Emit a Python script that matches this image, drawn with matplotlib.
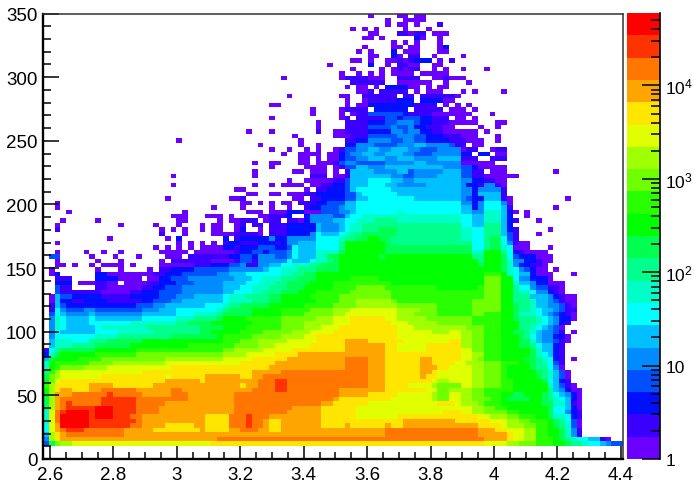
"""2D occupancy histogram on a log colour scale, 100 x 100 bins with a palette bar."""
import numpy as np
import matplotlib
matplotlib.use("Agg")
import matplotlib.pyplot as plt
from matplotlib.colors import ListedColormap, BoundaryNorm

plt.rcParams["font.family"] = ["Liberation Sans", "DejaVu Sans"]
plt.rcParams["mathtext.fontset"] = "custom"
plt.rcParams["mathtext.rm"] = "Liberation Sans"
plt.rcParams["mathtext.default"] = "rm"

N_BINS = 100
X_RANGE = (2.578, 4.407)
Y_RANGE = (0, 350)
BAR_TOP = 59600

X_TICKS = [2.6, 2.8, 3.0, 3.2, 3.4, 3.6, 3.8, 4.0, 4.2, 4.4]
X_LABELS = ["2.6", "2.8", "3", "3.2", "3.4", "3.6", "3.8", "4", "4.2", "4.4"]
Y_TICKS = [0, 50, 100, 150, 200, 250, 300, 350]
BAR_TICKS = [1, 10, 100, 1000, 10000]
BAR_LABELS = ["1", "10", "$10^{2}$", "$10^{3}$", "$10^{4}$"]

PALETTE = [
    "#6a00ff", "#3a00ff", "#0010ff", "#0050ff", "#008cff",
    "#00bfff", "#00ffff", "#00ffc8", "#00ff8c", "#00ff50",
    "#00ff00", "#28ff00", "#70ff00", "#a0ff00", "#e0ff00",
    "#ffe600", "#ffa500", "#ff7700", "#ff3300", "#ff0000",
]
LEVEL_CHARS = "0123456789abcdefghij"

# one string per y bin, top bin first; each token is <colour level><last x bin>, "." = empty
ROWS = [
    ".55 056 .60 062 .63 065",
    ".58 059 .61 065",
    ".58 059 .60 061 062 .63 064 .67 168",
    ".52 053 .54 055 .56 057 .61 062 .65 066",
    ".55 057 .60 162 063 165 .66 069",
    ".54 056 .57 058 .63 264 065 .67 068",
    ".59 060 .61 062 .63 064 .67 068",
    ".54 055 .59 061 .62 064 .67 068 269",
    ".53 054 .55 056 .59 260 .61 064 .67 069",
    ".55 057 .59 260 061 .62 164 .66 067 .71 072",
    ".52 054 .55 056 .58 060 161 062 163 264 266 .67 068 .69 170",
    ".48 049 .55 256 .58 059 .60 162 064 .66 068",
    ".52 053 .57 058 .59 060 161 062 164 .66 067 .68 069 .71 072 .75 076",
    ".50 051 .53 054 .55 056 .57 058 .59 063 .64 069",
    ".40 041 .50 051 155 058 .60 164 .66 068 169 072",
    ".52 158 .60 062 066 .68 069 .72 073",
    ".51 052 .53 055 .56 057 .58 262 064 .65 066 .67 069",
    ".53 055 156 .57 162 .63 064 .65 068 .71 072 .73 074 .78 079",
    ".41 042 .50 052 .54 160 .61 163 .64 170 071",
    ".51 052 .54 055 160 263 .64 268 070",
    ".38 040 .51 052 .53 055 263 167 .68 069 .70 071 .72 073",
    ".45 046 .50 051 155 .56 262 .63 168 .69 072 .73 074",
    ".45 046 .50 051 .52 053 155 361 262 166 073 .76 077",
    ".38 039 .50 051 152 .53 158 360 261 364 266 169 .70 072 .73 074",
    ".46 047 .51 155 258 360 463 364 266 169 074 .77 079",
    ".46 047 .51 155 359 460 362 463 265 168 070 .74 075 .77 078",
    ".34 035 .38 039 .46 147 .49 051 155 259 461 362 464 266 168 071 074 .75 076",
    ".42 043 .49 052 155 360 463 365 268 171 074 .77 078",
    ".22 023 .43 044 .51 153 255 459 361 463 365 269 172 075 .77 078",
    ".36 037 .43 044 .46 047 .51 253 456 360 463 565 469 370 172 .73 075",
    ".38 039 .41 042 .44 045 .46 047 .49 050 151 353 455 557 459 562 464 367 471 072 174 .76 077 179",
    ".40 041 .43 047 .48 050 251 352 454 556 458 561 463 366 471 273 .74 276 .77 079",
    ".43 045 .46 047 .48 050 251 353 455 558 460 563 465 467 571 174 .76 179",
    ".35 036 .38 040 .43 045 .46 047 049 150 351 453 358 463 565 471 073 077",
    ".38 039 .44 048 .49 050 151 353 555 458 564 568 471 373 274 079",
    ".35 036 .42 044 .45 048 .49 050 .51 152 556 460 562 363 468 571 373 175 .76 079 .87 088",
    ".21 022 .35 036 .45 148 .49 051 152 555 559 461 363 467 571 373 175 081",
    ".41 042 .44 049 151 352 555 659 561 463 565 571 473 275 177 079",
    ".21 022 .35 036 .38 039 .40 044 .45 047 149 251 352 555 658 560 465 571 472 274 175 477 178 079",
    ".32 034 .44 045 .46 148 251 352 553 659 565 571 473 274 478 179",
    ".34 036 .38 040 .41 044 146 251 353 554 660 566 571 473 274 578 179",
    ".20 021 .31 033 134 .42 044 .45 147 251 353 555 663 565 571 472 373 275 578 179 080 .89 090",
    ".1 02 .33 035 .36 037 .38 039 .40 042 .43 146 248 351 553 671 473 274 475 678 479 080",
    ".1 02 .28 029 .33 034 .38 039 .41 042 .44 145 247 350 451 553 671 573 274 475 678 579 180 .87 088",
    ".3 04 .23 024 .34 037 .38 041 244 047 350 452 553 654 660 761 671 573 475 778 579 280 081 .82 083",
    ".21 024 .27 030 .31 032 .36 038 141 242 .44 245 447 449 351 552 654 771 673 575 778 579 280 .82 083",
    ".2 03 .8 09 .22 024 .29 030 .31 033 136 .37 038 140 .41 143 044 245 447 449 551 653 756 860 771 673 575 778 579 280 181 .84 085",
    ".1 02 .12 013 .18 019 .22 023 .26 027 .28 030 .32 033 134 .35 137 .38 141 246 547 450 551 652 754 860 871 673 575 878 579 280",
    ".1 12 .19 020 .21 022 .23 024 .26 027 .28 030 .32 033 234 .36 037 .38 141 245 246 547 450 551 652 754 857 960 871 773 675 878 579 280 181 .86 087",
    ".19 120 .23 024 .28 032 136 037 .38 141 245 446 647 550 651 752 854 960 871 773 675 878 579 380 181 .84 085",
    ".10 011 .20 021 .22 223 .30 231 .32 133 238 439 241 445 446 650 751 853 955 a57 959 871 773 675 876 978 679 380 181",
    ".1 02 .22 023 .24 025 .26 027 .28 029 .30 131 233 136 239 140 241 443 546 647 650 851 a58 959 873 675 876 978 679 480 181 083",
    ".18 019 .20 021 .22 023 .24 025 .26 030 232 133 236 339 241 342 643 546 650 851 a58 973 675 876 978 779 680 081 083 .86 087",
    ".1 02 .6 07 .9 010 .12 013 .19 023 .23 024 .25 032 133 235 337 238 341 442 643 546 750 951 a58 973 775 a78 879 680 281 182 086",
    ".0 32 .7 08 .11 012 .15 016 .20 023 .24 131 233 335 236 439 341 442 643 546 748 950 a57 958 a73 875 a78 979 680 381 284 087",
    ".1 02 .8 09 .12 013 .19 020 .21 128 032 133 335 136 441 642 545 646 748 849 950 a74 875 a78 979 780 482 284 185 087",
    ".1 03 .4 05 .7 08 .9 013 .14 015 .19 025 128 231 333 434 136 438 540 642 745 847 950 a74 975 a78 979 780 481 283 185 086",
    ".0 01 .8 09 .12 013 .17 018 .19 121 225 329 331 434 437 538 640 743 846 950 a75 a78 979 780 681 482 383 284 086 .87 088",
    ".0 01 22 .8 210 015 .15 018 120 223 329 431 534 636 640 742 844 946 a75 b78 a79 780 681 583 284 087 .90 091",
    ".1 14 .8 212 016 .17 019 221 324 428 432 535 637 740 843 946 a52 b57 a75 c78 a80 681 483 286 087",
    ".1 24 .5 08 110 012 .13 015 .15 017 119 222 325 430 534 636 739 841 945 a49 b59 a75 c78 a80 781 583 484 286 089",
    ".1 32 14 .8 110 016 118 220 323 426 430 533 635 738 841 944 a49 b53 c58 b67 a74 b75 c78 a80 881 683 484 386 188 089",
    ".1 32 19 014 116 219 323 425 430 532 635 737 840 943 a46 b52 c59 b75 c78 a80 881 783 684 486 287 188 089",
    ".0 01 52 34 29 114 219 322 425 530 631 734 838 940 a45 b50 c59 b75 c78 a80 881 883 584 586 487 288 189 091",
    ".0 01 52 24 16 210 116 218 321 423 530 631 735 838 940 a46 b50 c53 d59 c60 b73 c78 a80 881 883 784 586 487 388 189 091",
    ".0 11 52 33 215 318 420 527 630 731 833 938 a44 b49 c53 d60 c67 b73 c78 a80 981 883 784 586 487 488 389 190 091",
    ".0 11 62 43 36 48 316 419 522 629 730 831 935 a40 b45 c49 d52 e60 d64 c67 b73 c78 a80 981 883 784 685 587 488 389 191",
    ".0 31 62 53 47 58 416 522 625 729 830 935 a40 b44 c49 d51 e60 d63 c67 b73 c75 b78 a80 981 783 784 685 586 487 388 289 190 091",
    ".0 41 72 63 57 68 516 622 725 829 930 a34 b40 c46 d49 e52 f58 e60 d65 c73 b78 a80 981 884 785 686 587 488 290 091",
    ".0 41 72 63 57 68 614 722 824 928 a35 b40 c44 d49 e52 f59 e62 d67 c73 b78 a81 883 884 785 686 587 488 289 190",
    ".0 41 72 63 58 69 717 826 930 a34 b40 c44 d47 e50 f60 e63 d72 c75 b78 a81 883 784 685 586 487 388 089",
    ".0 41 62 58 612 718 826 928 a33 b37 c42 d45 e49 f60 e66 d69 e71 d73 c75 b78 a80 982 883 784 585 487 388 189 .90 091",
    ".0 41 68 712 821 929 a30 b35 c40 d44 e46 f60 e71 d73 c75 b78 a81 982 883 684 585 487 288 289 090",
    ".0 51 74 67 810 916 a30 b33 c36 d41 e46 f51 g55 f61 e69 f71 d73 c75 b78 a81 983 784 585 487 388 189 090",
    ".0 51 74 88 914 a24 b32 c36 d39 e45 f51 g58 f60 e65 f71 d73 c75 b78 a81 983 884 685 587 288 189",
    "10 61 82 98 a15 b30 c32 d37 e42 f51 g58 f60 e65 f71 e73 c75 b78 a83 984 785 587 288 189",
    "20 71 92 a8 b15 c30 d34 e39 f43 g58 f71 e73 d75 b78 a83 984 785 686 587 288 189",
    "50 91 a5 b9 c20 d30 e35 f41 g51 h55 g58 f64 g66 f71 e73 d74 c75 b78 a82 983 984 885 786 687 288 189 .90 091",
    "70 a1 b7 c11 d20 e33 f39 g51 h55 g58 f64 g66 f70 e72 d75 c78 b81 a83 984 885 786 687 388 189",
    "70 a1 b2 c6 d10 e21 f38 g51 h55 g58 f64 g67 f69 e73 d75 c78 b79 a83 984 886 687 488 089",
    "80 b1 d2 e16 f35 g40 h55 g58 f64 g66 f67 e73 d75 c78 b79 a84 985 886 787 588 389 090",
    "90 c1 d2 e9 f20 e21 f27 g33 f35 g37 h55 g58 f64 g65 f67 e73 d75 c78 b79 a84 985 886 787 588 389 090",
    "a0 c1 e2 f20 g26 f27 g36 h39 i41 h55 g58 f66 e67 d69 e73 d75 c78 b80 a85 986 687 588 289 190",
    "b0 d1 f7 g11 f18 g33 f34 g36 h39 i41 h55 g58 f62 e66 d67 c71 e73 d75 c78 b80 a86 787 588 389 190 091",
    "a0 d1 f2 g4 f7 g9 h15 g21 h23 g35 h39 i41 h50 g58 f65 e67 c69 d73 c75 b80 a86 887 588 489 290 092",
    "a0 d1 g4 h10 i11 h16 g21 h24 g32 h50 g55 f60 e66 d67 c69 e71 d73 c75 b78 a80 982 a85 986 887 688 589 490 291 092",
    "90 d1 g2 h9 i15 h24 g32 h49 g50 f59 e66 d67 c69 e71 d73 c76 b78 a79 983 a85 986 887 788 689 590 291 092",
    "90 d1 g2 h3 i4 h9 i15 h20 g32 h47 g49 f55 e67 f70 e71 d74 c75 b78 a85 986 987 789 590 191 092",
    "80 d1 g2 h3 i8 j11 i15 h19 g32 h42 g47 f53 e73 d75 c77 b79 a86 987 689 590 291 092",
    "70 e1 h2 i3 j7 i8 j11 i15 h19 g32 h41 g47 f53 e68 f71 e73 d75 c79 b81 a86 987 689 490 291 192",
    "70 e1 h2 j7 i8 j11 i14 h16 g27 f31 h34 i35 h38 g47 f53 e60 f74 e76 d79 c81 b84 a86 987 789 690 291 192",
    "70 e1 h2 j7 i15 h16 g27 f31 h34 i35 h37 g38 f40 g47 f61 g70 f76 e79 d81 c83 b86 a87 988 889 690 391 092",
    "60 e1 g2 j7 i14 h16 g20 f25 g27 f31 h34 i35 h37 g38 f40 g47 f51 g52 f58 g59 f61 g74 f78 e79 d82 c84 b86 a87 988 889 790 391 092",
    "60 e1 g2 h3 i6 h13 g18 f26 g27 f31 g33 h36 g38 f40 g58 h74 g77 f79 e82 d84 b86 a88 989 790 491 192",
    "50 d1 f2 g3 h13 g58 h74 g79 f80 e82 d84 b86 a88 989 790 491 192",
    "40 d1 f2 g29 h75 g79 f80 e82 d84 b87 a88 989 890 791 693 595 196 097",
    "30 91 c2 d4 e28 f75 e79 d81 c84 b87 a89 990 892 793 695 596 497 399",
]


def expand_row(row):
    cells = np.full(N_BINS, np.nan)
    start = 0
    for token in row.split():
        last = int(token[1:])
        if token[0] != ".":
            cells[start:last + 1] = LEVEL_CHARS.index(token[0])
        start = max(start, last + 1)
    return cells


grid = np.full((N_BINS, N_BINS), np.nan)
for i, row in enumerate(ROWS):
    grid[N_BINS - 1 - i] = expand_row(row)

fig = plt.figure(figsize=(6.94, 4.85), dpi=100)
ax = fig.add_axes([43 / 694, 25 / 485, 580 / 694, 445.5 / 485])
cax = fig.add_axes([627 / 694, 25 / 485, 32.7 / 694, 446 / 485])

cmap = ListedColormap(PALETTE)
norm = BoundaryNorm(np.arange(-0.5, 20.5), cmap.N)
xedges = np.linspace(*X_RANGE, N_BINS + 1)
yedges = np.linspace(*Y_RANGE, N_BINS + 1)
ax.pcolormesh(xedges, yedges, np.ma.masked_invalid(grid), cmap=cmap, norm=norm,
              antialiased=False, linewidth=0)

ax.set_xlim(*X_RANGE)
ax.set_ylim(*Y_RANGE)
ax.set_xticks(X_TICKS, X_LABELS)
ax.set_xticks(np.arange(2.6, 4.41, 0.05), minor=True)
ax.set_yticks(Y_TICKS)
ax.set_yticks(np.arange(0, 351, 10), minor=True)
ax.tick_params(axis="x", which="major", direction="in", length=9.5, width=1.1, pad=5, labelsize=13.5)
ax.tick_params(axis="x", which="minor", direction="in", length=4.8, width=1.1)
ax.tick_params(axis="y", which="major", direction="in", length=11.5, width=1.1, pad=4, labelsize=13.5)
ax.tick_params(axis="y", which="minor", direction="in", length=5.8, width=1.1)
for side in ("left", "bottom"):
    ax.spines[side].set_linewidth(1.7)
for side in ("top", "right"):
    ax.spines[side].set_linewidth(1.1)
    ax.spines[side].set_color("#333333")

# palette bar
bar_edges = np.logspace(0, np.log10(BAR_TOP), 21)
cax.pcolormesh([0, 1], bar_edges, np.arange(20).reshape(-1, 1), cmap=cmap, norm=norm,
               antialiased=False, linewidth=0)
cax.set_yscale("log")
cax.set_ylim(1, BAR_TOP)
cax.set_xlim(0, 1)
cax.set_xticks([])
cax.yaxis.tick_right()
cax.set_yticks(BAR_TICKS, BAR_LABELS)
cax.yaxis.set_minor_locator(matplotlib.ticker.LogLocator(base=10, subs=range(2, 10), numticks=12))
cax.yaxis.set_minor_formatter(matplotlib.ticker.NullFormatter())
cax.tick_params(axis="y", which="major", direction="in", length=13, width=1.1, pad=4, labelsize=12.5)
cax.tick_params(axis="y", which="minor", direction="in", length=6.5, width=1.1)
cax.spines["top"].set_visible(False)
cax.spines["left"].set_visible(False)
cax.spines["bottom"].set_visible(False)
cax.spines["right"].set_linewidth(1.2)

fig.savefig("out.png", dpi=100)
